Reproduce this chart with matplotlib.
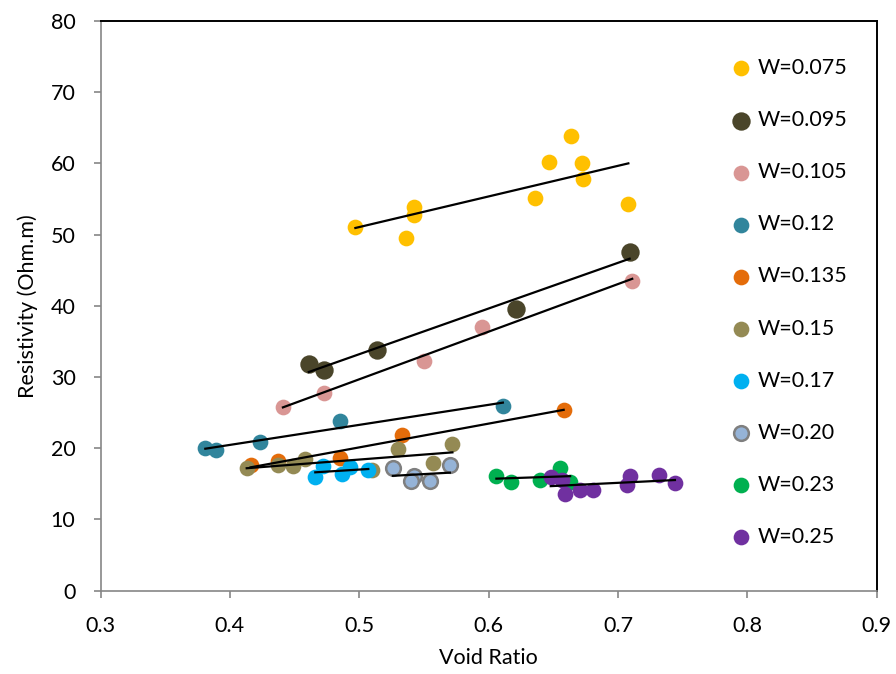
from matplotlib import pyplot as pl
import numpy as np

pl.rcParams['font.family'] = ['Lato', 'DejaVu Sans']

labels = ['W=0.075', 'W=0.095', 'W=0.105', 'W=0.12', 'W=0.135',
          'W=0.15', 'W=0.17', 'W=0.20', 'W=0.23', 'W=0.25']

colors = ['#FFC000', '#4A452A', '#D99694', '#31859C', '#E46C0A',
          '#948A54', '#00B0F0', '#95B3D7', '#00B050', '#7030A0']

# void ratio / resistivity
e_075 = [0.497, 0.542, 0.542, 0.536, 0.636, 0.647, 0.664, 0.672, 0.673, 0.708]
r_075 = [51.1, 53.9, 52.8, 49.6, 55.1, 60.2, 63.9, 60.0, 57.8, 54.3]

e_095 = [0.461, 0.473, 0.514, 0.621, 0.709]
r_095 = [31.9, 31.0, 33.8, 39.6, 47.6]

e_105 = [0.441, 0.473, 0.550, 0.595, 0.711]
r_105 = [25.8, 27.8, 32.3, 37.1, 43.5]

e_12 = [0.381, 0.389, 0.423, 0.485, 0.611]
r_12 = [20.0, 19.7, 20.9, 23.9, 26.0]

e_135 = [0.416, 0.437, 0.485, 0.533, 0.658]
r_135 = [17.6, 18.2, 18.6, 21.8, 25.4]

e_15 = [0.413, 0.437, 0.449, 0.458, 0.510, 0.530, 0.557, 0.572]
r_15 = [17.3, 17.6, 17.5, 18.5, 16.9, 19.9, 18.0, 20.6]

e_17 = [0.466, 0.472, 0.487, 0.493, 0.507]
r_17 = [16.0, 17.5, 16.4, 17.4, 16.9]

e_20 = [0.526, 0.542, 0.540, 0.555, 0.570]
r_20 = [17.2, 16.1, 15.4, 15.4, 17.6]

e_23 = [0.606, 0.617, 0.640, 0.655, 0.663]
r_23 = [16.1, 15.3, 15.6, 17.3, 15.3]

e_25 = [0.648, 0.657, 0.659, 0.671, 0.681, 0.707, 0.709, 0.732, 0.744]
r_25 = [15.9, 15.5, 13.6, 14.2, 14.1, 14.8, 16.1, 16.2, 15.1]

evals = [e_075, e_095, e_105, e_12, e_135, e_15, e_17, e_20, e_23, e_25]
rvals = [r_075, r_095, r_105, r_12, r_135, r_15, r_17, r_20, r_23, r_25]

fig = pl.figure(figsize=(8.96, 6.74), dpi=100)
ax = fig.add_axes([0.1122, 0.1236, 0.8663, 0.8452])

for i in range(len(labels)):
    size = 175 if labels[i] == 'W=0.095' else 128
    if labels[i] == 'W=0.20':
        ax.scatter(evals[i], rvals[i], s=112, color=colors[i],
                   edgecolor='#7F7F7F', linewidth=1.8, label=labels[i],
                   zorder=2)
    else:
        ax.scatter(evals[i], rvals[i], s=size, color=colors[i],
                   linewidth=0, label=labels[i], zorder=2)

# linear trendlines over the range of each series
for i in range(len(labels)):
    x = np.array(evals[i])
    y = np.array(rvals[i])
    m, b = np.polyfit(x, y, 1)
    xs = np.array([x.min(), x.max()])
    ax.plot(xs, m*xs+b, color='black', linewidth=1.6, zorder=3)

ax.set_xlim(0.3, 0.9)
ax.set_ylim(0, 80)
ax.set_xticks(np.arange(0.3, 0.91, 0.1))
ax.set_xticklabels(['0.3', '0.4', '0.5', '0.6', '0.7', '0.8', '0.9'])
ax.set_yticks(range(0, 81, 10))

for side in ['left', 'bottom']:
    ax.spines[side].set_color('#868686')
    ax.spines[side].set_linewidth(1.2)
for side in ['top', 'right']:
    ax.spines[side].set_color('black')
    ax.spines[side].set_linewidth(1.4)

ax.tick_params(direction='out', length=5, width=1.2, color='#868686',
               labelsize=15.5, labelcolor='black')
ax.tick_params(axis='x', pad=13)
ax.tick_params(axis='y', pad=13)

ax.set_xlabel('Void Ratio', fontsize=15.5, labelpad=9)
ax.set_ylabel('Resistivity (Ohm.m)', fontsize=15.5, labelpad=9)

ax.legend(loc='upper left', bbox_to_anchor=(0.795, 0.95), frameon=False,
          fontsize=15.5, labelspacing=1.49, handletextpad=0.05,
          handlelength=1.4, borderaxespad=0)

fig.savefig('out.png', dpi=100)
